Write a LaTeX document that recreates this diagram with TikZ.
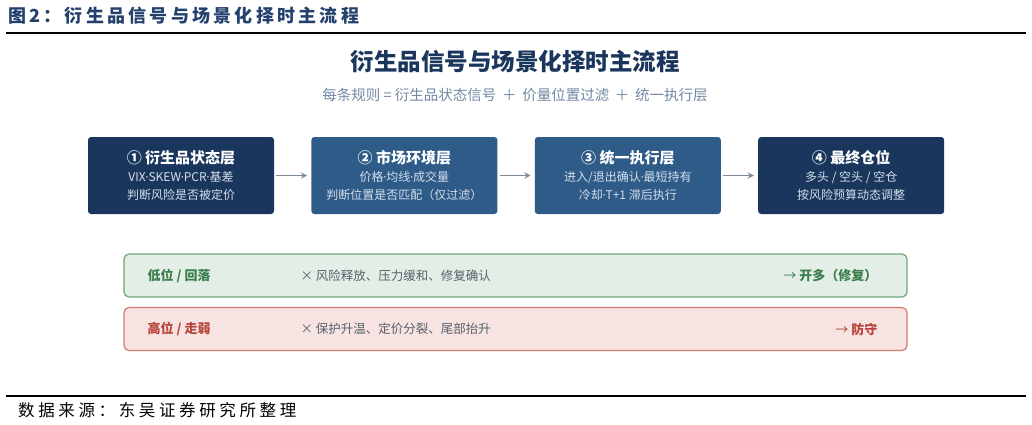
\documentclass[tikz,border=0pt]{standalone}
\usepackage{fontspec}
\setmainfont{Noto Sans CJK SC}
\newfontfamily\dotfont{DejaVu Sans}
\usetikzlibrary{positioning}

\definecolor{navy}{HTML}{1B365D}
\definecolor{steel}{HTML}{2F5B88}
\definecolor{headblue}{HTML}{24416E}
\definecolor{subgrey}{HTML}{7388A3}
\definecolor{paletxt}{HTML}{D3DEEB}
\definecolor{flowgrey}{HTML}{7D8996}
\definecolor{lowfill}{HTML}{E3EFE6}
\definecolor{lowline}{HTML}{6AA67B}
\definecolor{lowtxt}{HTML}{3C7D4E}
\definecolor{highfill}{HTML}{F7E3E1}
\definecolor{highline}{HTML}{D57A72}
\definecolor{hightxt}{HTML}{B8443A}
\definecolor{reasontxt}{HTML}{58616C}

\tikzset{
	layer/.style={rounded corners=3pt, minimum width=186pt, minimum height=77pt,
		text=white, align=center, inner sep=0pt,
		font=\fontsize{12}{18}\selectfont},
	flow/.style={draw=flowgrey, line width=1.8pt, -stealth},
	scene/.style={rounded corners=5pt, line width=1.2pt, minimum width=783pt,
		minimum height=43pt, inner sep=0pt},
	scenetxt/.style={font=\bfseries\fontsize{13}{15}\selectfont, inner sep=0pt},
	reason/.style={text=reasontxt, font=\fontsize{12.5}{15}\selectfont, inner sep=0pt}
}

\newcommand{\layertitle}[1]{{\bfseries\fontsize{15}{24}\selectfont #1}}
\newcommand{\md}{{\dotfont\kern-0.5pt·\kern-0.5pt}}
\newcommand{\thinto}{{\mdseries →}}

\begin{document}
\begin{tikzpicture}[x=1pt, y=-1pt]
		\useasboundingbox (0,0) rectangle (1032,424);
		
		% header and rules
		\node[anchor=west, text=headblue, font=\bfseries\fontsize{18}{20}\selectfont\addfontfeatures{LetterSpace=18}, inner sep=0pt] 
		(fig) at (8,16) {图2：衍生品信号与场景化择时主流程};
		\draw[line width=2.2pt] (6,33) -- (1026,33);
		\draw[line width=1.8pt] (6,396) -- (1026,396);
		\node[anchor=west, font=\fontsize{16.5}{18}\selectfont\addfontfeatures{LetterSpace=22}, inner sep=0pt] 
		(src) at (18,410) {数据来源：东吴证券研究所整理};
		
		\node[text=navy, font=\bfseries\fontsize{23.5}{26}\selectfont] (title) at (515,62) 
		{衍生品信号与场景化择时主流程};
		\node[text=subgrey, font=\fontsize{14.5}{16}\selectfont] (sub) at (515,95) 
		{每条规则 = 衍生品状态信号 \,＋\, 价量位置过滤 \,＋\, 统一执行层};
		
		% the four layers
		\node[layer, fill=navy] (fst) at (181,175.5) 
		{\layertitle{① 衍生品状态层}\\{\color{paletxt}VIX\md SKEW\md PCR\md 基差}\\{\color{paletxt}判断风险是否被定价}};
		\node[layer, fill=steel, right=37pt of fst] (mkt) 
		{\layertitle{② 市场环境层}\\{\color{paletxt}价格\md 均线\md 成交量}\\{\color{paletxt}判断位置是否匹配（仅过滤）}};
		\node[layer, fill=steel, right=37pt of mkt] (exe) 
		{\layertitle{③ 统一执行层}\\{\color{paletxt}进入/退出确认\md 最短持有}\\{\color{paletxt}冷却\md T+1 滞后执行}};
		\node[layer, fill=navy, right=37pt of exe] (pos) 
		{\layertitle{④ 最终仓位}\\{\color{paletxt}多头 / 空头 / 空仓}\\{\color{paletxt}按风险预算动态调整}};
		
		\draw[flow] ([xshift=2pt]fst.east) -- ([xshift=-4pt]mkt.west);
		\draw[flow] ([xshift=2pt]mkt.east) -- ([xshift=-4pt]exe.west);
		\draw[flow] ([xshift=2pt]exe.east) -- ([xshift=-4pt]pos.west);
		
		% scenarios
		\node[scene, draw=lowline, fill=lowfill] (low) at (515.5,275.5) {};
		\node[scenetxt, text=lowtxt, anchor=west] (lowlab) at ([xshift=24pt]low.west) {低位 / 回落};
		\node[reason, anchor=west] (lowwhy) at ([xshift=177pt]low.west) {× 风险释放、压力缓和、修复确认};
		\node[scenetxt, text=lowtxt, anchor=east] (lowact) at ([xshift=-30pt]low.east) {\thinto\ 开多（修复）};
		
		\node[scene, draw=highline, fill=highfill] (high) at (515.5,329) {};
		\node[scenetxt, text=hightxt, anchor=west] (highlab) at ([xshift=24pt]high.west) {高位 / 走弱};
		\node[reason, anchor=west] (highwhy) at ([xshift=177pt]high.west) {× 保护升温、定价分裂、尾部抬升};
		\node[scenetxt, text=hightxt, anchor=east] (highact) at ([xshift=-30pt]high.east) {\thinto\ 防守};
		\end{tikzpicture}
\end{document}
